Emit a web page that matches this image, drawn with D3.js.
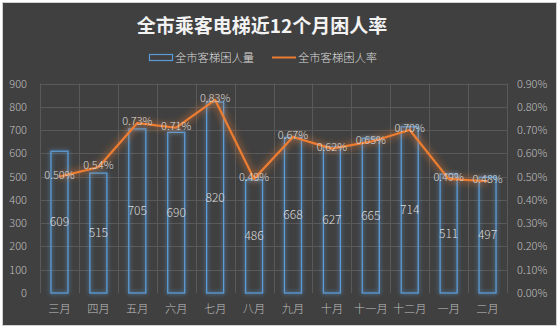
<!DOCTYPE html>
<html>
<head>
<meta charset="utf-8">
<script src="https://cdn.jsdelivr.net/npm/d3@7/dist/d3.min.js"></script>
<style>
  html, body { margin: 0; padding: 0; background: #ffffff; }
  svg { display: block; }
  text { font-family: "Noto Sans CJK SC", "Microsoft YaHei", sans-serif; }
</style>
</head>
<body>
<svg id="chart" width="559" height="328"></svg>
<script>
// Monthly elevator entrapment counts and rates (rates in percent)
const months = ["三月", "四月", "五月", "六月", "七月", "八月", "九月", "十月", "十一月", "十二月", "一月", "二月"];
const counts = [609, 515, 705, 690, 820, 486, 668, 627, 665, 714, 511, 497];
const rates = [0.50, 0.54, 0.73, 0.71, 0.83, 0.49, 0.67, 0.62, 0.65, 0.70, 0.49, 0.48];
const countTicks = [0, 100, 200, 300, 400, 500, 600, 700, 800, 900];
const rateTicks = [0, 0.1, 0.2, 0.3, 0.4, 0.5, 0.6, 0.7, 0.8, 0.9];

const W = 559, H = 328;
const plot = { left: 40, right: 507, top: 83.5, bottom: 293 };

const svg = d3.select("#chart");

// Glow filters for bars and line
const defs = svg.append("defs");
const barGlow = defs.append("filter").attr("id", "barGlow")
  .attr("x", "-60%").attr("y", "-10%").attr("width", "220%").attr("height", "120%");
barGlow.append("feGaussianBlur").attr("in", "SourceGraphic").attr("stdDeviation", 2.2).attr("result", "b");
const bm = barGlow.append("feMerge");
bm.append("feMergeNode").attr("in", "b");
bm.append("feMergeNode").attr("in", "SourceGraphic");

const lineGlow = defs.append("filter").attr("id", "lineGlow")
  .attr("x", "-10%").attr("y", "-30%").attr("width", "120%").attr("height", "160%");
lineGlow.append("feGaussianBlur").attr("in", "SourceGraphic").attr("stdDeviation", 3.5);

// Chart frame
svg.append("rect").attr("x", 2.5).attr("y", 2.5).attr("width", W - 5).attr("height", H - 5)
  .attr("fill", "#404040").attr("stroke", "#d0d0d0").attr("stroke-width", 1);

const x = d3.scaleBand().domain(months).range([plot.left, plot.right]).paddingInner(0).paddingOuter(0);
const yL = d3.scaleLinear().domain([0, 900]).range([plot.bottom, plot.top]);
const yR = d3.scaleLinear().domain([0, 0.9]).range([plot.bottom, plot.top]);

// Grid lines
const grid = svg.append("g").attr("stroke", "#595959").attr("stroke-width", 1);
grid.selectAll("line.h").data(countTicks.slice(1)).join("line")
  .attr("x1", plot.left).attr("x2", plot.right)
  .attr("y1", d => Math.round(yL(d)) + 0.5).attr("y2", d => Math.round(yL(d)) + 0.5);
const bounds = months.map(m => x(m)).concat([plot.right]);
grid.selectAll("line.v").data(bounds).join("line")
  .attr("x1", d => Math.round(d) + 0.5).attr("x2", d => Math.round(d) + 0.5)
  .attr("y1", plot.top).attr("y2", plot.bottom);

// Axes
const axisColor = "#bfbfbf";
const leftAxis = svg.append("g").attr("transform", `translate(${plot.left - 13},0)`)
  .call(d3.axisLeft(yL).tickValues(countTicks).tickSize(0).tickPadding(0));
const rightAxis = svg.append("g").attr("transform", `translate(${plot.right + 10},0)`)
  .call(d3.axisRight(yR).tickValues(rateTicks).tickSize(0).tickPadding(0)
    .tickFormat(d => d.toFixed(2) + "%"));
const bottomAxis = svg.append("g").attr("transform", `translate(0,${plot.bottom + 8})`)
  .call(d3.axisBottom(x).tickSize(0).tickPadding(4));
[leftAxis, rightAxis, bottomAxis].forEach(a => {
  a.select(".domain").remove();
  a.selectAll("text").attr("fill", axisColor).style("font-size", "11px")
    .style("font-family", "'Noto Sans CJK SC', sans-serif").style("font-weight", "300");
});
bottomAxis.selectAll("text").style("font-size", "11.2px");

// Bars
const bw = 17;
svg.append("g").selectAll("rect").data(counts).join("rect")
  .attr("x", (d, i) => x(months[i]) + x.bandwidth() / 2 - bw / 2)
  .attr("y", d => yL(d))
  .attr("width", bw)
  .attr("height", d => plot.bottom - yL(d))
  .attr("fill", "none")
  .attr("stroke", "#5b9bd5")
  .attr("stroke-width", 1.3)
  .attr("filter", "url(#barGlow)");

// Bar value labels
svg.append("g").selectAll("text").data(counts).join("text")
  .attr("x", (d, i) => x(months[i]) + x.bandwidth() / 2)
  .attr("y", d => yL(d / 2) + 4)
  .attr("text-anchor", "middle")
  .attr("fill", "#d9d9d9")
  .style("font-size", "12px").style("font-weight", "300")
  .text(d => d);

// Rate line
const line = d3.line()
  .x((d, i) => x(months[i]) + x.bandwidth() / 2)
  .y(d => yR(d));
svg.append("path").datum(rates).attr("d", line)
  .attr("fill", "none").attr("stroke", "#ed7d31").attr("stroke-width", 5)
  .attr("stroke-opacity", 0.5).attr("filter", "url(#lineGlow)");
svg.append("path").datum(rates).attr("d", line)
  .attr("fill", "none").attr("stroke", "#ed7d31").attr("stroke-width", 2.2)
  .attr("stroke-linejoin", "round");

// Rate labels
svg.append("g").selectAll("text").data(rates).join("text")
  .attr("x", (d, i) => x(months[i]) + x.bandwidth() / 2)
  .attr("y", d => yR(d) + 2)
  .attr("text-anchor", "middle")
  .attr("fill", "#d9d9d9")
  .style("font-size", "11px").style("font-weight", "300")
  .text(d => d.toFixed(2) + "%");

// Title
svg.append("text").attr("x", 262).attr("y", 33).attr("text-anchor", "middle")
  .attr("fill", "#f2f2f2").style("font-size", "19px").style("font-weight", "bold")
  .text("全市乘客电梯近12个月困人率");

// Legend
const lg = svg.append("g");
lg.append("rect").attr("x", 149.5).attr("y", 54.5).attr("width", 23).attr("height", 6)
  .attr("fill", "none").attr("stroke", "#5b9bd5").attr("stroke-width", 1.2);
lg.append("text").attr("x", 175).attr("y", 61.5).attr("fill", "#d9d9d9")
  .style("font-size", "11.3px").style("font-weight", "300").text("全市客梯困人量");
lg.append("line").attr("x1", 272).attr("x2", 296).attr("y1", 57.5).attr("y2", 57.5)
  .attr("stroke", "#ed7d31").attr("stroke-width", 2);
lg.append("text").attr("x", 298).attr("y", 61.5).attr("fill", "#d9d9d9")
  .style("font-size", "11.3px").style("font-weight", "300").text("全市客梯困人率");
</script>
</body>
</html>
